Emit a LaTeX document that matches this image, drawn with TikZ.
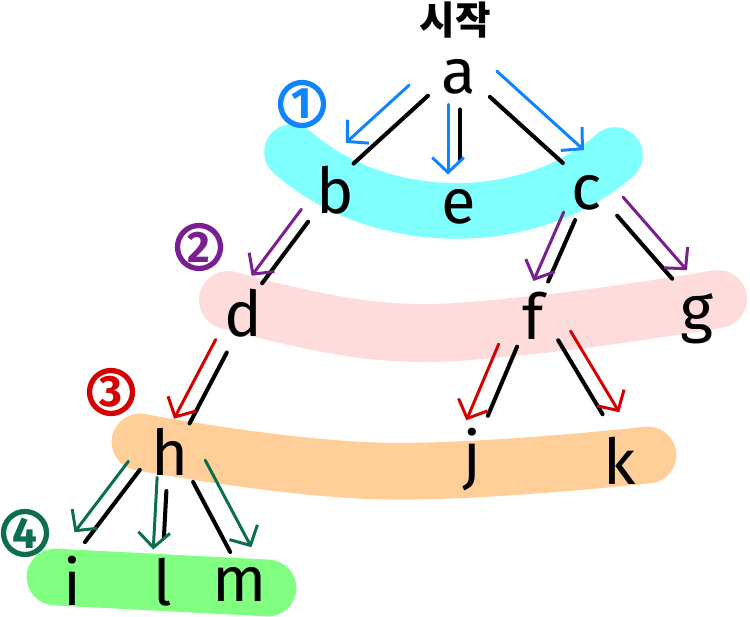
\documentclass[tikz,border=0pt]{standalone}
\usepackage{fontspec}
\setmainfont{Fira Sans}
\newfontfamily\krfont{Noto Sans CJK KR}
\usetikzlibrary{calc,arrows.meta}
\definecolor{bandcyan}{RGB}{128,255,255}
\definecolor{bandpink}{RGB}{255,220,220}
\definecolor{bandpeach}{RGB}{255,206,153}
\definecolor{bandgreen}{RGB}{128,255,128}
\definecolor{cblue}{RGB}{16,132,255}
\definecolor{cpurple}{RGB}{122,31,143}
\definecolor{cred}{RGB}{212,0,0}
\definecolor{cgreen}{RGB}{11,110,80}
\newcommand{\tedge}[9]{%
  \draw[blk] ($(#1)!#3!(#2) + #5$) -- ($(#1)!#4!(#2) + #5$);
  \draw[arr, #6] ($(#1)!#7!(#2) + #9$) -- ($(#1)!#8!(#2) + #9$);
}
\begin{document}
\begin{tikzpicture}[x=0.02cm,y=-0.02cm,
  lt/.style={inner sep=0pt, font=\fontsize{36}{40}\selectfont},
  blk/.style={line width=2.3pt, line cap=round, black},
  arr/.style={line width=1.7pt, line cap=round, -{Straight Barb[length=8.5pt,width=18pt]}},
  num/.style={circle, draw=#1, text=#1, line width=3pt, minimum size=0.86cm, inner sep=0pt, font=\bfseries\fontsize{25}{27}\selectfont},
  hl/.style={line width=#1, line cap=round}
]
\useasboundingbox (0,0) rectangle (750,616);
% highlight bands
\draw[hl=31.7pt, bandcyan] (292,152) .. controls (380,230) and (530,230) .. (615,155);
\draw[hl=33pt, bandpink] plot[smooth, tension=0.7] coordinates {(228,300) (380,331) (533,325) (718,299)};
\draw[hl=32.3pt, bandpeach] plot[smooth, tension=0.7] coordinates {(140,442) (380,471) (648,455)};
\draw[hl=32.3pt, bandgreen] (55,577) -- (268,588);
% nodes
\node[font=\krfont\bfseries\fontsize{22}{24}\selectfont] (start) at (455,20) {시작};
\node[lt] (a) at (459,77) {a};
\node[lt] (b) at (335,190) {b};
\node[lt] (e) at (459,207) {e};
\node[lt] (c) at (587,193) {c};
\node[lt] (d) at (243,313) {d};
\node[lt] (f) at (533,316) {f};
\node[lt] (g) at (697,319) {g};
\node[lt] (h) at (170,452) {h};
\node[lt] (j) at (472,460) {j};
\node[lt] (k) at (620,461) {k};
\node[lt] (i) at (72,581) {i};
\node[lt] (l) at (163,582) {l};
\node[lt] (m) at (240,584) {m};
% level numbers
\node[num=cblue] (n1) at (302,104) {1};
\node[num=cpurple] (n2) at (199,247) {2};
\node[num=cred] (n3) at (111,392) {3};
\node[num=cgreen] (n4) at (25,533) {4};
% edges: black tree edge + coloured BFS arrow
\tedge{a}{b}{0.21}{0.81}{(-5,-5)}{cblue}{0.25}{0.76}{(-19,-20)}
\tedge{a}{e}{0.25}{0.64}{(1,0)}{cblue}{0.21}{0.75}{(-11,0)}
\tedge{a}{c}{0.21}{0.78}{(4,-4.5)}{cblue}{0.14}{0.82}{(20,-22)}
\tedge{b}{d}{0.27}{0.77}{(-2,-1.5)}{cpurple}{0.23}{0.77}{(-12.5,-9)}
\tedge{c}{f}{0.22}{0.72}{(0,0)}{cpurple}{0.20}{0.76}{(-12.5,-5.5)}
\tedge{c}{g}{0.22}{0.72}{(6,-5)}{cpurple}{0.16}{0.74}{(18.5,-16)}
\tedge{d}{h}{0.27}{0.78}{(3.5,2)}{cred}{0.23}{0.80}{(-10.5,-5.5)}
\tedge{f}{j}{0.22}{0.70}{(-2.5,-1)}{cred}{0.25}{0.78}{(-19,-8)}
\tedge{f}{k}{0.20}{0.71}{(7.8,-4.7)}{cred}{0.19}{0.75}{(21,-12.5)}
\tedge{h}{i}{0.20}{0.76}{(-10.6,-7.9)}{cgreen}{0.20}{0.75}{(-22,-16.5)}
\tedge{h}{l}{0.30}{0.66}{(-1.5,0)}{cgreen}{0.195}{0.75}{(-11.5,0)}
\tedge{h}{m}{0.25}{0.78}{(5.6,-3)}{cgreen}{0.16}{0.82}{(24,-13)}
\end{tikzpicture}
\end{document}
